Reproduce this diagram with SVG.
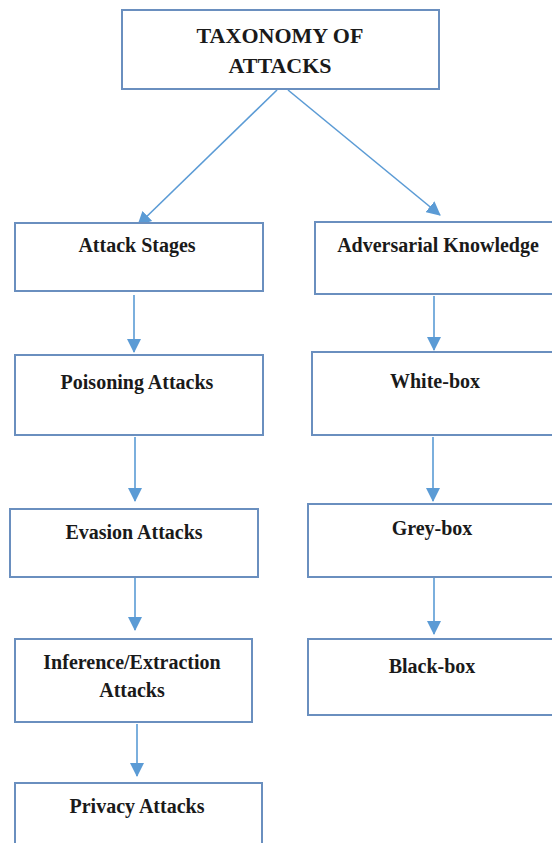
<svg xmlns="http://www.w3.org/2000/svg" width="552" height="843" viewBox="0 0 552 843">
<style>
.box{fill:#fff;stroke:#6a8fbf;stroke-width:2}
.lbl{font-weight:bold;font-size:20px;fill:#1a1a1a;text-anchor:middle}
.ttl{font-size:22px}
.con{stroke:#5b9bd5;stroke-width:1.6;fill:none}
</style>
<defs>
<marker id="ah" markerUnits="userSpaceOnUse" markerWidth="14" markerHeight="14" viewBox="0 0 14 14" refX="13" refY="7" orient="auto">
<path d="M0,0 L14,7 L0,14 Z" fill="#5b9bd5"/>
</marker>
</defs>
<rect width="552" height="843" fill="#fff"/>
<g id="connectors">
<line class="con" x1="277" y1="90" x2="138" y2="225" marker-end="url(#ah)"/>
<line class="con" x1="288" y1="90" x2="440" y2="215" marker-end="url(#ah)"/>
<line class="con" x1="134" y1="295" x2="134" y2="352" marker-end="url(#ah)"/>
<line class="con" x1="135" y1="437" x2="135" y2="501" marker-end="url(#ah)"/>
<line class="con" x1="135" y1="578" x2="135" y2="630" marker-end="url(#ah)"/>
<line class="con" x1="137" y1="724" x2="137" y2="776" marker-end="url(#ah)"/>
<line class="con" x1="434" y1="296" x2="434" y2="350" marker-end="url(#ah)"/>
<line class="con" x1="433" y1="437" x2="433" y2="501" marker-end="url(#ah)"/>
<line class="con" x1="434" y1="572" x2="434" y2="634" marker-end="url(#ah)"/>
</g>
<g font-family="Liberation Serif, serif">
<g id="title">
<rect class="box" x="122" y="10" width="317" height="79"/>
<text class="lbl ttl" x="280" y="43">TAXONOMY OF</text>
<text class="lbl ttl" x="280" y="73">ATTACKS</text>
</g>
<g id="attack-stages">
<rect class="box" x="15" y="223" width="248" height="68"/>
<text class="lbl" x="137" y="252">Attack Stages</text>
</g>
<g id="poisoning">
<rect class="box" x="15" y="355" width="248" height="80"/>
<text class="lbl" x="137" y="389">Poisoning Attacks</text>
</g>
<g id="evasion">
<rect class="box" x="10" y="509" width="248" height="68"/>
<text class="lbl" x="134" y="539">Evasion Attacks</text>
</g>
<g id="inference">
<rect class="box" x="15" y="639" width="237" height="83"/>
<text class="lbl" x="132" y="669">Inference/Extraction</text>
<text class="lbl" x="132" y="697">Attacks</text>
</g>
<g id="privacy">
<rect class="box" x="15" y="783" width="247" height="70"/>
<text class="lbl" x="137" y="813">Privacy Attacks</text>
</g>
<g id="adversarial">
<rect class="box" x="315" y="222" width="245" height="72"/>
<text class="lbl" x="438" y="252">Adversarial Knowledge</text>
</g>
<g id="white-box">
<rect class="box" x="312" y="352" width="248" height="83"/>
<text class="lbl" x="435" y="388">White-box</text>
</g>
<g id="grey-box">
<rect class="box" x="308" y="504" width="252" height="73"/>
<text class="lbl" x="432" y="535">Grey-box</text>
</g>
<g id="black-box">
<rect class="box" x="308" y="639" width="252" height="76"/>
<text class="lbl" x="432" y="673">Black-box</text>
</g>
</g>
</svg>
